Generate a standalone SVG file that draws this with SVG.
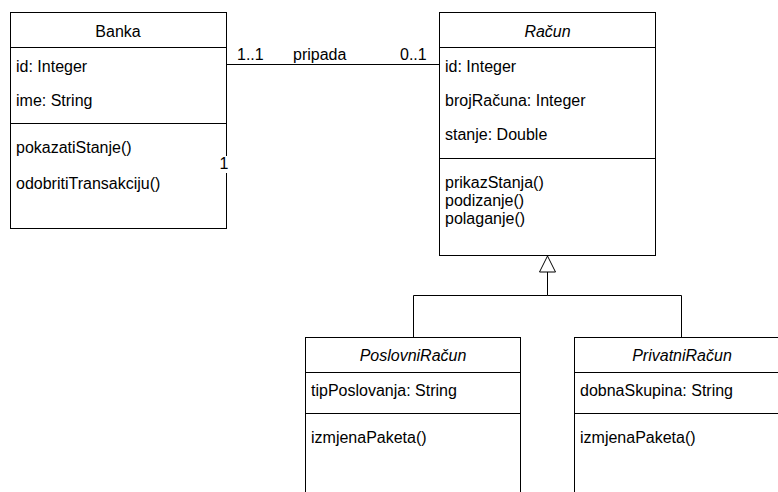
<svg xmlns="http://www.w3.org/2000/svg" width="778" height="492" viewBox="0 0 778 492">
<style>
.box{fill:#fff;stroke:#000;stroke-width:1}
.ln{fill:none;stroke:#000;stroke-width:1}
text{font-family:"Liberation Sans",Arial,Helvetica,sans-serif;font-size:16px;fill:#000}
.t{text-anchor:middle}
.i{font-style:italic}
</style>
<rect width="778" height="492" fill="#fff"/>
<g id="connectors">
<path class="ln" d="M226.5,64.5 H439.5"/>
<text x="237" y="60">1..1</text>
<text x="293" y="60">pripada</text>
<text x="400" y="60">0..1</text>
<path class="ln" d="M547.5,272 V295.5 H413.5 V337.5 M547.5,295.5 H681.5 V337.5"/>
<polygon class="box" points="547.5,256 539.5,272 555.5,272"/>
</g>
<g id="Banka">
<rect class="box" x="10.5" y="12.5" width="216" height="216"/>
<path class="ln" d="M10.5,47.5 H226.5 M10.5,123.5 H226.5"/>
<text class="t" x="118" y="37">Banka</text>
<text x="16" y="71.5">id: Integer</text>
<text x="16" y="106">ime: String</text>
<text x="16" y="153">pokazatiStanje()</text>
<text x="16" y="189">odobritiTransakciju()</text>
<rect x="220" y="156" width="9" height="17" fill="#fff"/>
<text x="219.5" y="169" font-size="12">1</text>
</g>
<g id="Racun">
<rect class="box" x="439.5" y="12.5" width="216" height="243"/>
<path class="ln" d="M439.5,47.5 H655.5 M439.5,158.5 H655.5"/>
<text class="t i" x="547.5" y="37">Račun</text>
<text x="445" y="72">id: Integer</text>
<text x="445" y="106">brojRačuna: Integer</text>
<text x="445" y="140">stanje: Double</text>
<text x="445" y="188">prikazStanja()</text>
<text x="445" y="206">podizanje()</text>
<text x="445" y="224">polaganje()</text>
</g>
<g id="PoslovniRacun">
<rect class="box" x="305.5" y="337.5" width="215" height="200"/>
<path class="ln" d="M305.5,372.5 H520.5 M305.5,413.5 H520.5"/>
<text class="t i" x="413" y="360.5">PoslovniRačun</text>
<text x="311" y="396">tipPoslovanja: String</text>
<text x="311" y="443">izmjenaPaketa()</text>
</g>
<g id="PrivatniRacun">
<rect class="box" x="574.5" y="337.5" width="215" height="200"/>
<path class="ln" d="M574.5,372.5 H789.5 M574.5,413.5 H789.5"/>
<text class="t i" x="682" y="360.5">PrivatniRačun</text>
<text x="580" y="396">dobnaSkupina: String</text>
<text x="580" y="443">izmjenaPaketa()</text>
</g>
</svg>
